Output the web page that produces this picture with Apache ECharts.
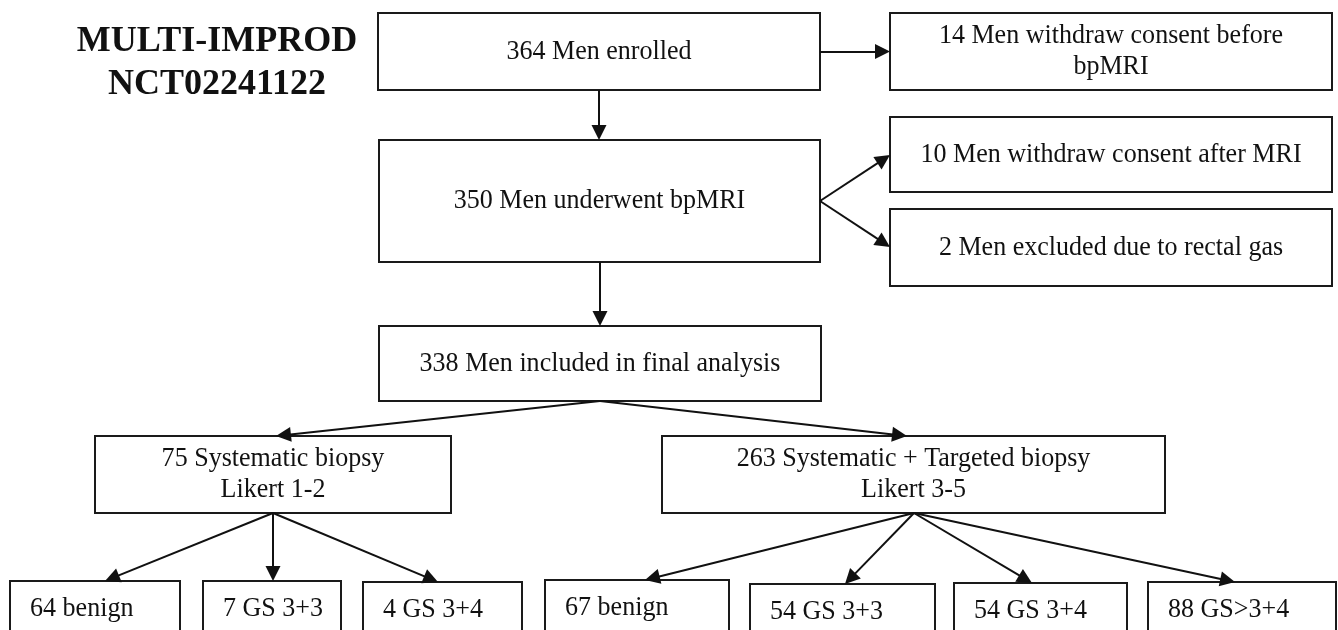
<!DOCTYPE html>
<html>
<head>
<meta charset="utf-8">
<title>MULTI-IMPROD flow</title>
<script src="https://cdn.jsdelivr.net/npm/echarts@6/dist/echarts.min.js"></script>
<style>
  html, body { margin: 0; padding: 0; background: #fff; }
  #main { width: 1338px; height: 630px; }
</style>
</head>
<body>
<div id="main"></div>
<script>
// ---- values ----
var titleLines = ['MULTI-IMPROD', 'NCT02241122'];

var stageCounts = [364, 350, 338];
var stageLabels = ['Men enrolled', 'Men underwent bpMRI', 'Men included in final analysis'];

var exclusionCounts = [14, 10, 2];
var exclusionLabels = ['Men withdraw consent before\nbpMRI', 'Men withdraw consent after MRI', 'Men excluded due to rectal gas'];

var armCounts = [75, 263];
var armLabels = ['Systematic biopsy\nLikert 1-2', 'Systematic + Targeted biopsy\nLikert 3-5'];

var outcomeCountsSB = [64, 7, 4];
var outcomeLabelsSB = ['benign', 'GS 3+3', 'GS 3+4'];

var outcomeCountsTB = [67, 54, 54, 88];
var outcomeLabelsTB = ['benign', 'GS 3+3', 'GS 3+4', 'GS>3+4'];

// ---- layout (diagram units = pixels on a hidden 1338 x 630 grid) ----
var stageBoxes = [[378, 13, 820, 90], [379, 140, 820, 262], [379, 326, 821, 401]];
var exclusionBoxes = [[890, 13, 1332, 90], [890, 117, 1332, 192], [890, 209, 1332, 286]];
var armBoxes = [[95, 436, 451, 513], [662, 436, 1165, 513]];
var outcomeBoxesSB = [[10, 581, 180, 660], [203, 581, 341, 660], [363, 582, 522, 660]];
var outcomeBoxesTB = [[545, 580, 729, 660], [750, 584, 935, 660], [954, 583, 1127, 660], [1148, 582, 1336, 660]];
var armArrowX = [276, 907];
var outcomeArrowXSB = [105, 273, 438];
var outcomeArrowXTB = [645, 845, 1032, 1235];

var FONT = '"Liberation Serif", "Times New Roman", serif';

// build box list
var boxes = [];
function addBox(rect, text, align) {
	boxes.push({ rect: rect, text: text, align: align || 'center' });
}
for (var i = 0; i < stageCounts.length; i++) addBox(stageBoxes[i], stageCounts[i] + ' ' + stageLabels[i]);
for (var i = 0; i < exclusionCounts.length; i++) addBox(exclusionBoxes[i], exclusionCounts[i] + ' ' + exclusionLabels[i]);
for (var i = 0; i < armCounts.length; i++) addBox(armBoxes[i], armCounts[i] + ' ' + armLabels[i]);
for (var i = 0; i < outcomeCountsSB.length; i++) addBox(outcomeBoxesSB[i], outcomeCountsSB[i] + ' ' + outcomeLabelsSB[i], 'left');
for (var i = 0; i < outcomeCountsTB.length; i++) addBox(outcomeBoxesTB[i], outcomeCountsTB[i] + ' ' + outcomeLabelsTB[i], 'left');

// arrows: [from, to]
function midY(r) { return (r[1] + r[3]) / 2; }
var arrows = [];
arrows.push([[599, stageBoxes[0][3]], [599, stageBoxes[1][1]]]);
arrows.push([[stageBoxes[0][2], midY(exclusionBoxes[0])], [exclusionBoxes[0][0], midY(exclusionBoxes[0])]]);
arrows.push([[stageBoxes[1][2], midY(stageBoxes[1])], [exclusionBoxes[1][0], 155]]);
arrows.push([[stageBoxes[1][2], midY(stageBoxes[1])], [exclusionBoxes[2][0], 247]]);
arrows.push([[600, stageBoxes[1][3]], [600, stageBoxes[2][1]]]);
for (var i = 0; i < armBoxes.length; i++) {
	arrows.push([[600, stageBoxes[2][3]], [armArrowX[i], armBoxes[i][1]]]);
}
for (var i = 0; i < outcomeBoxesSB.length; i++) {
	arrows.push([[273, armBoxes[0][3]], [outcomeArrowXSB[i], outcomeBoxesSB[i][1]]]);
}
for (var i = 0; i < outcomeBoxesTB.length; i++) {
	arrows.push([[914, armBoxes[1][3]], [outcomeArrowXTB[i], outcomeBoxesTB[i][1]]]);
}

var HEAD_LEN = 15;
function shorten(a, b) {
	// pull the end back so the triangle tip lands on the box edge
	var dx = b[0] - a[0], dy = b[1] - a[1];
	var len = Math.sqrt(dx * dx + dy * dy);
	var k = (len - HEAD_LEN / 2) / len;
	return [a[0] + dx * k, a[1] + dy * k];
}

function renderBox(params, api) {
	var b = boxes[params.dataIndex];
	var p0 = api.coord([api.value(0), api.value(1)]);
	var p1 = api.coord([api.value(2), api.value(3)]);
	var w = p1[0] - p0[0], h = p1[1] - p0[1];
	var tx, ty;
	if (b.align === 'left') {
		tx = p0[0] + 20;
		ty = p0[1] + 28;
	} else {
		tx = p0[0] + w / 2;
		ty = p0[1] + h / 2;
	}
	return {
		type: 'group',
		children: [{
			type: 'rect',
			shape: { x: p0[0], y: p0[1], width: w, height: h },
			style: { fill: '#fff', stroke: '#1a1a1a', lineWidth: 2 }
		}, {
			type: 'text',
			x: tx,
			y: ty,
			scaleX: 0.93,
			style: {
				text: b.text,
				x: 0,
				y: 0,
				align: b.align,
				textAlign: b.align,
				verticalAlign: 'middle',
				textVerticalAlign: 'middle',
				fontSize: 28,
				fontFamily: FONT,
				lineHeight: 31,
				fill: '#111'
			}
		}]
	};
}

var chart = echarts.init(document.getElementById('main'));
chart.setOption({
	animation: false,
	backgroundColor: '#fff',
	grid: { left: 0, right: 0, top: 0, bottom: 0 },
	xAxis: { type: 'value', min: 0, max: 1338, show: false },
	yAxis: { type: 'value', min: 0, max: 630, inverse: true, show: false },
	graphic: [{
		type: 'text',
		x: 217,
		y: 63,
		style: {
			text: titleLines.join('\n'),
			align: 'center',
			textAlign: 'center',
			verticalAlign: 'middle',
			textVerticalAlign: 'middle',
			fontSize: 36,
			fontWeight: 'bold',
			fontFamily: FONT,
			lineHeight: 43,
			fill: '#111'
		}
	}],
	series: [{
		type: 'custom',
		renderItem: renderBox,
		silent: true,
		z: 2,
		encode: { x: [0, 2], y: [1, 3] },
		data: boxes.map(function (b) { return b.rect; })
	}, {
		type: 'lines',
		coordinateSystem: 'cartesian2d',
		silent: true,
		z: 3,
		symbol: ['none', 'triangle'],
		symbolSize: [15, HEAD_LEN],
		lineStyle: { color: '#111', width: 2, opacity: 1, curveness: 0 },
		data: arrows.map(function (a) {
			return { coords: [a[0], shorten(a[0], a[1])] };
		})
	}]
});
</script>
</body>
</html>
